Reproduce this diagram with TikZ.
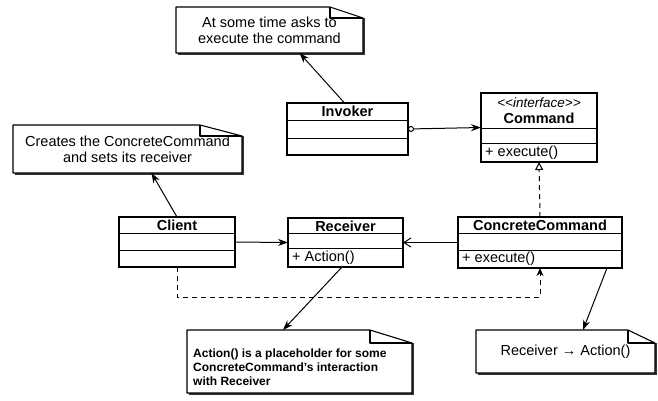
\documentclass[tikz,border=0pt]{standalone}
\usepackage{fontspec}
\setmainfont{Liberation Sans}
\usetikzlibrary{arrows.meta,calc,shadows,backgrounds}

\tikzset{
  umlbox/.style={draw, line width=1.1pt, fill=white, inner sep=0pt, outer sep=0pt,
    drop shadow={shadow xshift=1.4pt, shadow yshift=-1.4pt, fill=black!85, opacity=1}},
  divider/.style={line width=1pt},
  classname/.style={font=\fontsize{14.5}{16}\selectfont\bfseries, inner sep=0pt},
  member/.style={font=\fontsize{14.5}{16}\selectfont, inner sep=0pt, anchor=west},
  stereo/.style={font=\fontsize{13.5}{15}\selectfont\itshape, inner sep=0pt},
  notebox/.style={inner sep=0pt, outer sep=0pt, align=center,
    font=\fontsize{14.5}{16}\selectfont},
  noteline/.style={line width=1.1pt, line join=round},
  link/.style={line width=1pt},
  filltip/.style={-{Stealth[length=10pt,width=7pt]}},
  opentip/.style={-{Straight Barb[length=7pt,width=9pt,line width=1pt]}},
  realize/.style={dash pattern=on 5pt off 4pt, -{Triangle[open,length=8pt,width=8pt,line width=1pt]}},
  depend/.style={dash pattern=on 5pt off 4pt, -{Stealth[length=8pt,width=7pt]}},
}

% note outline with folded corner: #1 node name, #2 fold width, #3 fold height
\newcommand\drawnote[3]{%
  \begin{pgfonlayer}{background}
    \fill[black!80] ($(#1.south west)+(1.5,1.5)$) rectangle ($(#1.north east)+(1.5,#3)$);
    \fill[white] (#1.south west) -- (#1.north west) -- ($(#1.north east)+(-#2,0)$)
      -- ($(#1.north east)+(0,#3)$) -- (#1.south east) -- cycle;
  \end{pgfonlayer}
  \draw[noteline] (#1.south west) -- (#1.north west) -- ($(#1.north east)+(-#2,0)$)
    -- ($(#1.north east)+(0,#3)$) -- (#1.south east) -- cycle;
  \draw[noteline] ($(#1.north east)+(-#2,0)$) -- ($(#1.north east)+(-#2,#3)$)
    -- ($(#1.north east)+(0,#3)$);
}

\begin{document}
\begin{tikzpicture}[x=1pt,y=-1pt]
\useasboundingbox (0,0) rectangle (658,400);

% ---- classes ----
\node[umlbox, minimum width=121pt, minimum height=52pt] (inv) at (347.5,129) {};
\draw[divider] ($(inv.north west)+(0,17)$) -- ($(inv.north east)+(0,17)$);
\draw[divider] ($(inv.north west)+(0,35)$) -- ($(inv.north east)+(0,35)$);
\node[classname] at ($(inv.north)+(0,8.5)$) {Invoker};

\node[umlbox, minimum width=116pt, minimum height=69pt] (cmd) at (539,127.5) {};
\draw[divider] ($(cmd.north west)+(0,35)$) -- ($(cmd.north east)+(0,35)$);
\draw[divider] ($(cmd.north west)+(0,50)$) -- ($(cmd.north east)+(0,50)$);
\node[stereo] at ($(cmd.north)+(0,9.5)$) {<{}<interface>{}>};
\node[classname] at ($(cmd.north)+(0,25)$) {Command};
\node[member] at ($(cmd.north west)+(4,59.5)$) {+ execute()};

\node[umlbox, minimum width=116pt, minimum height=50pt] (cli) at (177,242) {};
\draw[divider] ($(cli.north west)+(0,16)$) -- ($(cli.north east)+(0,16)$);
\draw[divider] ($(cli.north west)+(0,33)$) -- ($(cli.north east)+(0,33)$);
\node[classname] at ($(cli.north)+(0,8)$) {Client};

\node[umlbox, minimum width=115pt, minimum height=49pt] (rec) at (345.5,242.5) {};
\draw[divider] ($(rec.north west)+(0,15)$) -- ($(rec.north east)+(0,15)$);
\draw[divider] ($(rec.north west)+(0,30)$) -- ($(rec.north east)+(0,30)$);
\node[classname] at ($(rec.north)+(0,8)$) {Receiver};
\node[member] at ($(rec.north west)+(4,39.5)$) {+ Action()};

\node[umlbox, minimum width=164pt, minimum height=51pt] (cc) at (540,242.5) {};
\draw[divider] ($(cc.north west)+(0,16)$) -- ($(cc.north east)+(0,16)$);
\draw[divider] ($(cc.north west)+(0,33)$) -- ($(cc.north east)+(0,33)$);
\node[classname] at ($(cc.north)+(0,8)$) {ConcreteCommand};
\node[member] at ($(cc.north west)+(4,42)$) {+ execute()};

% ---- notes ----
\node[notebox, minimum width=187pt, minimum height=46pt] (n1) at (269.5,30)
  {At some time asks to\\execute the command};
\drawnote{n1}{33}{11}

\node[notebox, minimum width=229pt, minimum height=48pt] (n2) at (127.5,149)
  {Creates the ConcreteCommand\\and sets its receiver};
\drawnote{n2}{42}{11}

\node[notebox, minimum width=225pt, minimum height=63pt] (n3) at (299.5,361.5) {};
\node[inner sep=0pt, anchor=west, align=left, font=\fontsize{12}{14}\selectfont\bfseries]
  (n3t) at ($(n3.west)+(6,5.5)$)
  {Action() is a placeholder for some\\ConcreteCommand's interaction\\with Receiver};
\drawnote{n3}{42}{13}

\node[notebox, minimum width=179pt, minimum height=43pt] (n4) at (565.5,351.5)
  {Receiver \textrightarrow\ Action()};
\drawnote{n4}{27}{13}

% ---- connectors ----
\draw[link, filltip] ([xshift=-3pt]inv.north) -- ([xshift=30pt]n1.south);
\draw[link, filltip] (cli.north) -- ([xshift=24pt]n2.south);
\draw[link, filltip] ([xshift=-3.5pt]rec.south) -- ([xshift=-16.5pt]n3.north);
\draw[link, filltip] ([xshift=67pt]cc.south) -- ([xshift=17.5pt]n4.north);

\draw[link, {Circle[open,length=6pt,width=6pt,line width=1pt]}-{Stealth[length=10pt,width=7pt]}]
  (inv.east) -- (cmd.west);
\draw[link, filltip] (cli.east) -- (rec.west);
\draw[link, opentip] (cc.west) -- (rec.east);
\draw[link, realize] (cc.north) -- (cmd.south);
\draw[link, depend] (cli.south) -- ++(0,30) -| (cc.south);

\end{tikzpicture}
\end{document}
